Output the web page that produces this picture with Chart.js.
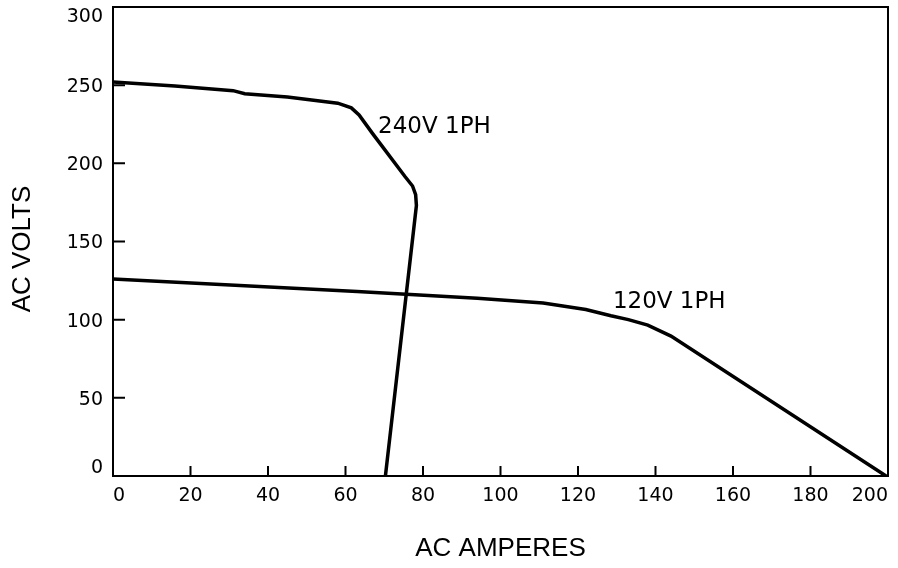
<!DOCTYPE html>
<html>
<head>
<meta charset="utf-8">
<script src="https://cdn.jsdelivr.net/npm/chart.js@4.4.0/dist/chart.umd.min.js"></script>
<style>
  html, body { margin: 0; padding: 0; background: #fff; }
  #wrap { width: 898px; height: 568px; }
</style>
</head>
<body>
<div id="wrap"><canvas id="js-chart-canvas" width="898" height="568"></canvas></div>
<script>
// AC volts vs AC amperes, two single phase curves

const amps240 = [0, 16, 31, 34, 45, 58, 61.5, 63.5, 67, 75.4, 77.3, 78.1, 78.3, 70.3];
const volts240 = [252, 249.5, 246.5, 244.5, 242.5, 238.5, 235.5, 231, 219, 191.4, 185.5, 180, 173, 0];

const amps120 = [0, 63, 94, 111, 122, 128.5, 133, 138, 144, 199.5];
const volts120 = [126, 118, 113.7, 110.7, 106.5, 102.5, 100, 96.5, 89.5, 0];

const ampTicks = [0, 20, 40, 60, 80, 100, 120, 140, 160, 180, 200];
const voltTicks = [0, 50, 100, 150, 200, 250, 300];

const curveLabels = [
  { text: "240V 1PH", x: 68.4, y: 223 },
  { text: "120V 1PH", x: 129, y: 111.5 },
];

const toPoints = (xs, ys) => xs.map((x, i) => ({ x: x, y: ys[i] }));

const canvasContext = document
  .querySelector("#js-chart-canvas")
  .getContext("2d");

const tickFont = { family: "DejaVu Sans", size: 19 };
const titleFont = { family: "Liberation Sans", size: 26 };

const frameDraw = {
  id: "frameDraw",

  afterDraw(chart) {
    const {
      ctx,
      chartArea: { top, bottom, left, right },
      scales: { x, y },
    } = chart;

    ctx.save();
    ctx.strokeStyle = "#000";
    ctx.lineWidth = 2;
    ctx.strokeRect(left, top, right - left, bottom - top);

    ctx.beginPath();
    ampTicks.forEach((v) => {
      const px = x.getPixelForValue(v);
      ctx.moveTo(px, bottom);
      ctx.lineTo(px, bottom - 10);
    });
    voltTicks.forEach((v) => {
      const py = y.getPixelForValue(v);
      ctx.moveTo(left, py);
      ctx.lineTo(left + 12, py);
    });
    ctx.stroke();

    ctx.fillStyle = "#000";

    // volt labels, the end ones pulled inside the frame
    ctx.font = "19px 'DejaVu Sans'";
    ctx.textAlign = "right";
    ctx.textBaseline = "middle";
    voltTicks.forEach((v) => {
      let py = y.getPixelForValue(v) + 2;
      py = Math.min(Math.max(py, top + 10), bottom - 8);
      ctx.fillText(String(v), left - 10, py);
    });

    ctx.save();
    ctx.font = "26px 'Liberation Sans'";
    ctx.textAlign = "center";
    ctx.translate(23, 249);
    ctx.rotate(-Math.PI / 2);
    ctx.fillText("AC VOLTS", 0, 0);
    ctx.restore();

    ctx.font = "23px 'DejaVu Sans'";
    ctx.textAlign = "left";
    curveLabels.forEach((lab) => {
      ctx.fillText(lab.text, x.getPixelForValue(lab.x), y.getPixelForValue(lab.y));
    });
    ctx.restore();
  },
};

const lineStyle = {
  showLine: true,
  borderColor: "#000",
  borderWidth: 3.5,
  pointRadius: 0,
  tension: 0,
  fill: false,
};

const config = {
  type: "scatter",
  data: {
    datasets: [
      { label: "240V 1PH", data: toPoints(amps240, volts240), ...lineStyle },
      { label: "120V 1PH", data: toPoints(amps120, volts120), ...lineStyle },
    ],
  },
  options: {
    responsive: false,
    animation: false,
    layout: { padding: { top: 7, right: 10, left: 0, bottom: 0 } },
    plugins: {
      legend: { display: false },
      tooltip: { enabled: false },
    },
    scales: {
      x: {
        type: "linear",
        min: 0,
        max: 200,
        afterBuildTicks(scale) {
          scale.ticks = ampTicks.map((v) => ({ value: v }));
        },
        afterFit(scale) {
          scale.height = 92;
          scale.paddingLeft = 0;
          scale.paddingRight = 0;
        },
        grid: { display: false, drawTicks: false },
        border: { display: false },
        ticks: {
          color: "#000",
          font: tickFont,
          padding: 9,
          align: "inner",
          maxRotation: 0,
        },
        title: {
          display: true,
          text: "AC AMPERES",
          color: "#000",
          font: titleFont,
          padding: { top: 0, bottom: 4 },
        },
      },
      y: {
        type: "linear",
        min: 0,
        max: 300,
        afterBuildTicks(scale) {
          scale.ticks = voltTicks.map((v) => ({ value: v }));
        },
        afterFit(scale) {
          scale.width = 113;
          scale.paddingTop = 0;
          scale.paddingBottom = 0;
        },
        grid: { display: false, drawTicks: false },
        border: { display: false },
        ticks: { display: false },
      },
    },
  },
  plugins: [frameDraw],
};

const voltChart = new Chart(canvasContext, config);
</script>
</body>
</html>
